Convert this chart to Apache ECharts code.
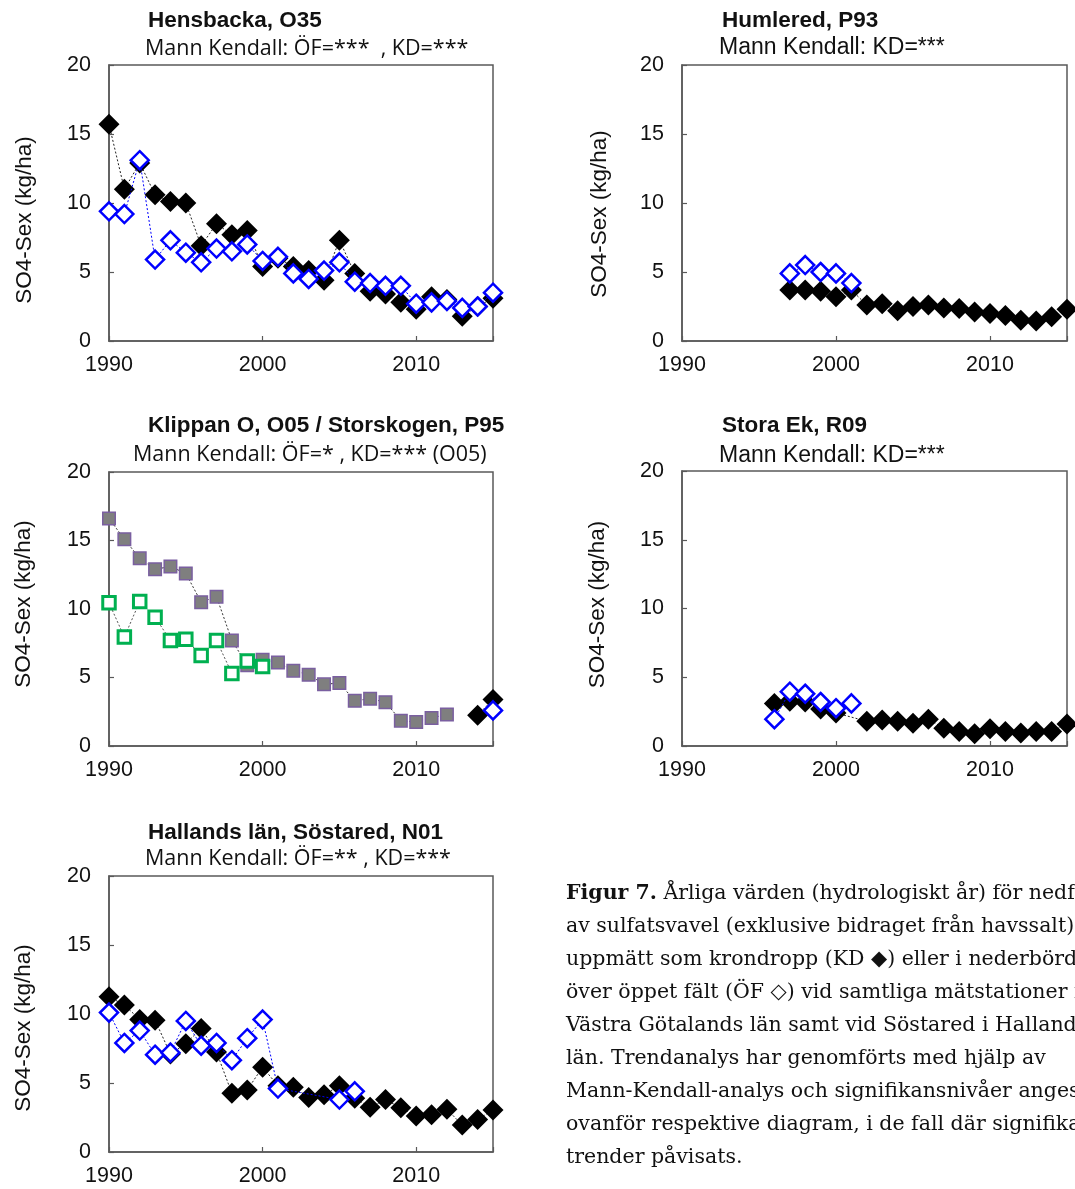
<!DOCTYPE html>
<html>
<head>
<meta charset="utf-8">
<script src="https://cdn.jsdelivr.net/npm/echarts@6/dist/echarts.min.js"></script>
<style>
  html, body { margin: 0; padding: 0; background: #ffffff; }
  #chart { width: 1075px; height: 1189px; }
</style>
</head>
<body>
<div id="chart"></div>
<script>
// Hydrological years shared by every panel
const YEARS = [1990, 1991, 1992, 1993, 1994, 1995, 1996, 1997, 1998, 1999,
               2000, 2001, 2002, 2003, 2004, 2005, 2006, 2007, 2008, 2009,
               2010, 2011, 2012, 2013, 2014, 2015];

// SO4-Sex deposition, kg/ha (KD = krondropp, ÖF = öppet fält); null = not measured
const HENSBACKA_KD = [15.7, 11.0, 12.9, 10.6, 10.1, 10.0, 6.9, 8.5, 7.7, 8.0,
                      5.4, 6.0, 5.4, 5.1, 4.4, 7.3, 4.9, 3.6, 3.4, 2.8,
                      2.3, 3.2, 3.0, 1.8, 2.5, 3.1];
const HENSBACKA_OF = [9.4, 9.2, 13.1, 5.9, 7.3, 6.4, 5.7, 6.7, 6.5, 7.0,
                      5.8, 6.1, 4.9, 4.5, 5.1, 5.7, 4.3, 4.2, 4.0, 4.0,
                      2.7, 2.8, 2.9, 2.4, 2.5, 3.5];

const HUMLERED_KD = [null, null, null, null, null, null, null, 3.7, 3.7, 3.6,
                     3.2, 3.7, 2.6, 2.7, 2.2, 2.5, 2.6, 2.4, 2.35, 2.1,
                     2.0, 1.85, 1.5, 1.45, 1.75, 2.3];
const HUMLERED_OF = [null, null, null, null, null, null, null, 4.9, 5.5, 5.0,
                     4.9, 4.2, null, null, null, null, null, null, null, null,
                     null, null, null, null, null, null];

const KLIPPAN_KD = [16.6, 15.1, 13.7, 12.9, 13.1, 12.6, 10.5, 10.9, 7.7, 5.9,
                    6.3, 6.1, 5.5, 5.2, 4.5, 4.6, 3.3, 3.45, 3.2, 1.85,
                    1.75, 2.05, 2.3, null, null, null];
const KLIPPAN_OF = [10.45, 7.95, 10.55, 9.4, 7.7, 7.8, 6.6, 7.7, 5.3, 6.2,
                    5.8, null, null, null, null, null, null, null, null, null,
                    null, null, null, null, null, null];
const STORSKOGEN_KD = [null, null, null, null, null, null, null, null, null, null,
                       null, null, null, null, null, null, null, null, null, null,
                       null, null, null, null, 2.25, 3.4];
const STORSKOGEN_OF = [null, null, null, null, null, null, null, null, null, null,
                       null, null, null, null, null, null, null, null, null, null,
                       null, null, null, null, null, 2.6];

const STORAEK_KD = [null, null, null, null, null, null, 3.1, 3.25, 3.2, 2.7,
                    2.4, null, 1.8, 1.9, 1.8, 1.65, 1.95, 1.3, 1.05, 0.9,
                    1.25, 1.05, 0.95, 1.05, 1.05, 1.6];
const STORAEK_OF = [null, null, null, null, null, null, 1.95, 3.95, 3.8, 3.2,
                    2.75, 3.1, null, null, null, null, null, null, null, null,
                    null, null, null, null, null, null];

const SOSTARED_KD = [11.25, 10.65, 9.6, 9.55, 7.1, 7.85, 8.95, 7.25, 4.25, 4.5,
                     6.15, 4.8, 4.7, 3.95, 4.15, 4.8, 3.9, 3.25, 3.8, 3.2,
                     2.6, 2.7, 3.1, 1.95, 2.35, 3.05];
const SOSTARED_OF = [10.1, 7.9, 8.8, 7.05, 7.2, 9.5, 7.7, 7.9, 6.65, 8.25,
                     9.6, 4.6, null, null, null, 3.8, 4.4, null, null, null,
                     null, null, null, null, null, null];

// Axis settings
const X_MIN = 1990, X_MAX = 2015, X_STEP = 10;
const Y_MIN = 0, Y_MAX = 20, Y_STEP = 5;
const Y_NAME = 'SO4-Sex (kg/ha)';

// Panel headings
const TITLES = ['Hensbacka, O35', 'Humlered, P93', 'Klippan O, O05 / Storskogen, P95',
                'Stora Ek, R09', 'Hallands län, Söstared, N01'];
const SUBTITLES = ['Mann Kendall: ÖF=***  , KD=***', 'Mann Kendall: KD=***',
                   'Mann Kendall: ÖF=* , KD=*** (O05)', 'Mann Kendall: KD=***',
                   'Mann Kendall: ÖF=** , KD=***'];

// Caption lines
const CAPTION = [
  '{b|Figur 7.} Årliga värden (hydrologiskt år) för nedfall',
  'av sulfatsvavel (exklusive bidraget från havssalt)',
  'uppmätt som krondropp (KD {s|◆}) eller i nederbörden',
  'över öppet fält (ÖF {s|◇}) vid samtliga mätstationer i',
  'Västra Götalands län samt vid Söstared i Hallands',
  'län. Trendanalys har genomförts med hjälp av',
  'Mann-Kendall-analys och signifikansnivåer anges',
  'ovanför respektive diagram, i de fall där signifikanta',
  'trender påvisats.'
];

const SANS = 'Liberation Sans, Arial, sans-serif';
const HUMANIST = 'Open Sans, Liberation Sans, sans-serif';
const SERIF = 'DejaVu Serif, Liberation Serif, serif';

// Plot rectangles and heading placement of the five panels
const PANELS = [
  { left: 109, top: 65,  width: 384, height: 276, tx: 148, ty: 9,   sx: 145, sy: 38,  subFont: HUMANIST, subSize: 21.5, nameX: 25, shift: 17 },
  { left: 682, top: 65,  width: 385, height: 276, tx: 722, ty: 9,   sx: 719, sy: 36,  subFont: SANS,     subSize: 23,   nameX: 600, shift: 11 },
  { left: 109, top: 472, width: 384, height: 274, tx: 148, ty: 414, sx: 133, sy: 444, subFont: HUMANIST, subSize: 21.5, nameX: 24, shift: -5 },
  { left: 682, top: 471, width: 385, height: 275, tx: 722, ty: 414, sx: 719, sy: 444, subFont: SANS,     subSize: 23,   nameX: 598, shift: -4 },
  { left: 109, top: 876, width: 384, height: 276, tx: 148, ty: 821, sx: 145, sy: 848, subFont: HUMANIST, subSize: 21.5, nameX: 24, shift: 14 }
];

function pairs(values) {
  return YEARS.map((y, i) => [y, values[i] == null ? '-' : values[i]]);
}

const FRAME = '#595959';

const grids = [], xAxes = [], yAxes = [], titles = [];
PANELS.forEach((p, i) => {
  grids.push({
    left: p.left, top: p.top, width: p.width, height: p.height,
    show: true, borderColor: FRAME, borderWidth: 1.5,
    containLabel: false, outerBoundsMode: 'none'
  });
  xAxes.push({
    gridIndex: i, type: 'value', min: X_MIN, max: X_MAX, interval: X_STEP,
    axisLine: { show: true, lineStyle: { color: FRAME, width: 1.5 } },
    axisTick: { show: true, inside: true, length: 5, lineStyle: { color: FRAME, width: 1.2 } },
    splitLine: { show: false },
    axisLabel: {
      margin: 13, color: '#111', fontFamily: SANS, fontSize: 21.5,
      formatter: v => (v === X_MAX ? '' : String(v))
    }
  });
  const pad = p.shift >= 0 ? [0, 2 * p.shift, 0, 0] : [0, 0, 0, -2 * p.shift];
  yAxes.push({
    gridIndex: i, type: 'value', min: Y_MIN, max: Y_MAX, interval: Y_STEP,
    name: Y_NAME, nameLocation: 'middle', nameGap: p.left - p.nameX - 11,
    nameTextStyle: { fontFamily: SANS, fontSize: 22.5, color: '#111', padding: pad },
    axisLine: { show: true, lineStyle: { color: FRAME, width: 1.5 } },
    axisTick: { show: true, inside: true, length: 5, lineStyle: { color: FRAME, width: 1.2 } },
    splitLine: { show: false },
    axisLabel: { margin: 18, color: '#111', fontFamily: SANS, fontSize: 21.5 }
  });
  titles.push({
    text: TITLES[i], left: p.tx, top: p.ty, padding: 0,
    textStyle: { fontFamily: SANS, fontWeight: 'bold', fontSize: 22.5, color: '#111' }
  });
  titles.push({
    text: SUBTITLES[i], left: p.sx, top: p.sy, padding: 0,
    textStyle: { fontFamily: p.subFont, fontWeight: 'normal', fontSize: p.subSize, color: '#111' }
  });
});

// Throughfall (KD): filled black diamonds on a dotted line
function kdSeries(g, values, name) {
  return {
    name, type: 'line', xAxisIndex: g, yAxisIndex: g, data: pairs(values),
    symbol: 'diamond', symbolSize: 21, showAllSymbol: true, connectNulls: true, clip: false,
    itemStyle: { color: '#000000' },
    lineStyle: { color: '#222222', width: 1, type: [2, 2] },
    z: 2, animation: false
  };
}
// Open field (ÖF): hollow blue diamonds on a dotted line
function ofSeries(g, values, name) {
  return {
    name, type: 'line', xAxisIndex: g, yAxisIndex: g, data: pairs(values),
    symbol: 'diamond', symbolSize: 18, showAllSymbol: true, connectNulls: true, clip: false,
    itemStyle: { color: '#ffffff', borderColor: '#0000ff', borderWidth: 2.5 },
    lineStyle: { color: '#0000ff', width: 1, type: [2, 2] },
    z: 3, animation: false
  };
}
// Klippan O05: grey filled squares (KD) and green hollow squares (ÖF)
function squareSeries(g, values, name, fill, border, bw, lineColor) {
  return {
    name, type: 'line', xAxisIndex: g, yAxisIndex: g, data: pairs(values),
    symbol: 'rect', symbolSize: 12.5, showAllSymbol: true, connectNulls: true, clip: false,
    itemStyle: { color: fill, borderColor: border, borderWidth: bw },
    lineStyle: { color: lineColor, width: 1, type: [2, 2] },
    z: 2, animation: false
  };
}

const series = [
  kdSeries(0, HENSBACKA_KD, 'Hensbacka KD'),
  ofSeries(0, HENSBACKA_OF, 'Hensbacka ÖF'),
  kdSeries(1, HUMLERED_KD, 'Humlered KD'),
  ofSeries(1, HUMLERED_OF, 'Humlered ÖF'),
  squareSeries(2, KLIPPAN_KD, 'Klippan O KD', '#7f7f7f', '#7a5fa0', 1.5, '#333333'),
  squareSeries(2, KLIPPAN_OF, 'Klippan O ÖF', '#ffffff', '#00b050', 3, '#555555'),
  kdSeries(2, STORSKOGEN_KD, 'Storskogen KD'),
  ofSeries(2, STORSKOGEN_OF, 'Storskogen ÖF'),
  kdSeries(3, STORAEK_KD, 'Stora Ek KD'),
  ofSeries(3, STORAEK_OF, 'Stora Ek ÖF'),
  kdSeries(4, SOSTARED_KD, 'Söstared KD'),
  ofSeries(4, SOSTARED_OF, 'Söstared ÖF')
];

const captionGraphics = CAPTION.map((line, i) => ({
  type: 'text', x: 566, y: 894 + 33 * i,
  style: {
    text: line, fontFamily: SERIF, fontSize: 20.5, fill: '#111',
    verticalAlign: 'middle', align: 'left',
    rich: {
      b: { fontFamily: SERIF, fontSize: 20.5, fontWeight: 'bold', fill: '#111' },
      s: { fontFamily: 'DejaVu Sans, sans-serif', fontSize: 21, fill: '#111' }
    }
  }
}));

const chart = echarts.init(document.getElementById('chart'), null, { renderer: 'canvas' });
chart.setOption({
  backgroundColor: '#ffffff',
  animation: false,
  title: titles,
  grid: grids,
  xAxis: xAxes,
  yAxis: yAxes,
  series: series,
  graphic: captionGraphics
});
</script>
</body>
</html>
